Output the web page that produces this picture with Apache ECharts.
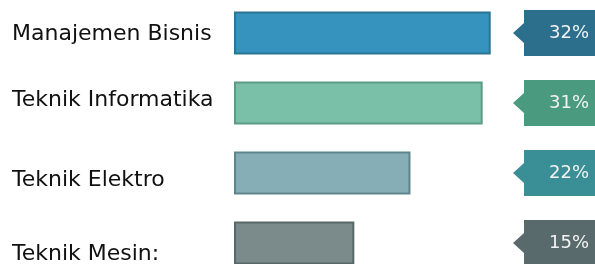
<!DOCTYPE html>
<html>
<head>
<meta charset="utf-8">
<script src="https://cdn.jsdelivr.net/npm/echarts@6/dist/echarts.min.js"></script>
<style>
  html, body { margin: 0; padding: 0; background: #fff; }
  #chart { width: 595px; height: 264px; }
</style>
</head>
<body>
<div id="chart"></div>
<script>
// data
var categories = ['Manajemen Bisnis', 'Teknik Informatika', 'Teknik Elektro', 'Teknik Mesin:'];
var values = [32, 31, 22, 15];

// colours per row
var barFill = ['#3593bd', '#7abfa8', '#86aeb7', '#7b8b8b'];
var barLine = ['#2a7595', '#5c9b85', '#5d858c', '#596868'];
var tagFill = ['#2b6f8d', '#4a9a80', '#3a8e95', '#596a6c'];
// small vertical nudge of the category text (px, + = down)
var labelShift = [1, -3, 7, 11];

var chart = echarts.init(document.getElementById('chart'), null, { renderer: 'canvas' });

var rich = {};
labelShift.forEach(function (s, i) {
  rich['r' + i] = {
    fontFamily: 'DejaVu Sans',
    fontSize: 22,
    color: '#111',
    padding: s > 0 ? [2 * s, 0, 0, 0] : [0, 0, -2 * s, 0]
  };
});

var option = {
  animation: false,
  backgroundColor: '#fff',
  grid: { left: 234, width: 361, top: -2, height: 280, outerBoundsMode: 'none', containLabel: false },
  xAxis: {
    type: 'value', min: 0, max: 45, show: false
  },
  yAxis: {
    type: 'category',
    inverse: true,
    data: categories,
    axisLine: { show: false },
    axisTick: { show: false },
    splitLine: { show: false },
    axisLabel: {
      align: 'left',
      margin: 222,
      formatter: function (v, i) { return '{r' + i + '|' + v + '}'; },
      rich: rich
    }
  },
  series: [
    {
      type: 'bar',
      barWidth: 43,
      data: values.map(function (v, i) {
        return {
          value: v,
          itemStyle: { color: barFill[i], borderColor: barLine[i], borderWidth: 2 }
        };
      })
    },
    {
      // callout tags with the percentage
      type: 'custom',
      encode: { x: 0, y: 1 },
      clip: false,
      data: values.map(function (v, i) { return [v, i]; }),
      renderItem: function (params, api) {
        var cs = params.coordSys;
        var idx = api.value(1);
        var cy = api.coord([0, idx])[1];
        var right = cs.x + cs.width;
        var left = right - 71;
        var h = 23;
        var tip = left - 11;
        return {
          type: 'group',
          children: [
            {
              type: 'polygon',
              shape: {
                points: [
                  [left, cy - h], [right + 2, cy - h], [right + 2, cy + h],
                  [left, cy + h], [left, cy + 10], [tip, cy], [left, cy - 10]
                ]
              },
              style: { fill: tagFill[idx] }
            },
            {
              type: 'text',
              style: {
                text: api.value(0) + '%',
                x: left + 45,
                y: cy,
                align: 'center',
                verticalAlign: 'middle',
                fill: '#f2f2f2',
                font: '18px "DejaVu Sans"'
              }
            }
          ]
        };
      }
    }
  ]
};

chart.setOption(option);
</script>
</body>
</html>
